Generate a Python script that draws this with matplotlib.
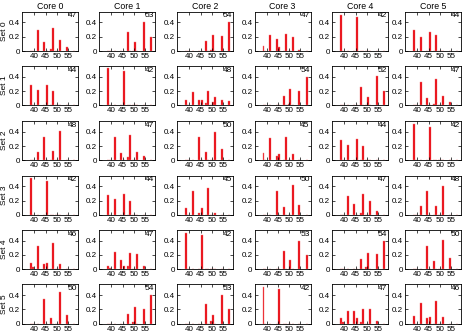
import matplotlib
matplotlib.use("Agg")
import matplotlib.pyplot as plt

plt.rcParams['font.family'] = ['Liberation Sans', 'DejaVu Sans']

cores = ["Core 0", "Core 1", "Core 2", "Core 3", "Core 4", "Core 5"]
sets = ["Set 0", "Set 1", "Set 2", "Set 3", "Set 4", "Set 5"]
bins = [38.5, 39.3, 41.5, 44.5, 45.5, 47.5, 48.5, 49.7, 50.5, 51.5, 54.5, 57.8]
xticks = [40, 45, 50, 55]
yticks = [0, 0.2, 0.4]
ytick_labels = ["0", "0.2", "0.4"]

set0_heights = [
    [0, 0, .29, .13, 0, .03, .32, 0, 0, .16, .05, 0],
    [0, 0, 0, 0, 0, .27, 0, 0, .12, 0, .40, .20],
    [0, 0, 0, 0, 0, .14, 0, .02, .23, 0, .21, .40],
    [.07, 0, .22, .17, .06, 0, .24, 0, 0, .20, .02, 0],
    [.51, 0, 0, 0, .48, 0, 0, 0, 0, 0, 0, 0],
    [.29, 0, .19, 0, .27, 0, .23, 0, 0, 0, 0, 0],
]
set1_heights = [
    [.28, 0, .22, 0, .29, 0, .20, 0, 0, 0, 0, 0],
    [.52, 0, 0, 0, .48, 0, 0, 0, 0, 0, 0, 0],
    [.07, 0, .19, .08, .07, .03, .20, 0, .05, .11, .07, .06],
    [0, 0, 0, 0, 0, .13, 0, .02, .23, 0, .20, .40],
    [0, 0, 0, 0, 0, .26, 0, 0, .12, 0, .41, .20],
    [0, 0, .33, .10, 0, .02, .37, 0, 0, .13, .04, 0],
]
set2_heights = [
    [0, 0, .12, .33, 0, 0, .13, 0, 0, .41, 0, 0],
    [0, 0, .33, .10, 0, .04, .35, 0, 0, .12, .06, 0],
    [0, 0, 0, .33, 0, .11, 0, 0, 0, .40, .16, 0],
    [.10, 0, .31, .06, .09, 0, .33, 0, 0, .09, 0, 0],
    [.28, 0, .22, 0, .30, 0, .20, 0, 0, 0, 0, 0],
    [.51, 0, 0, 0, .47, 0, 0, 0, 0, 0, 0, 0],
]
set3_heights = [
    [.52, 0, 0, 0, .48, 0, 0, 0, 0, 0, 0, 0],
    [.28, 0, .22, 0, .29, 0, .20, 0, 0, 0, 0, 0],
    [.10, 0, .34, .03, .09, 0, .38, 0, 0, .03, 0, 0],
    [0, 0, 0, .33, 0, .11, 0, 0, 0, .42, .14, 0],
    [0, 0, .27, .15, 0, .03, .29, 0, 0, .19, .06, 0],
    [0, 0, .12, .33, 0, 0, .13, 0, 0, .41, 0, 0],
]
set4_heights = [
    [.08, .03, .32, .07, .08, 0, .36, 0, 0, .07, 0, 0],
    [.05, .02, .24, .13, .04, .04, .23, 0, 0, .21, .04, 0],
    [.51, 0, 0, 0, .48, 0, 0, 0, 0, 0, 0, 0],
    [0, 0, 0, 0, 0, .26, 0, 0, .13, 0, .40, .20],
    [0, 0, 0, 0, 0, .14, 0, .03, .23, 0, .21, .40],
    [0, 0, 0, .33, 0, .11, 0, 0, 0, .41, .15, 0],
]
set5_heights = [
    [0, 0, 0, .35, 0, .08, 0, 0, 0, .44, .12, 0],
    [0, 0, 0, 0, 0, .13, 0, .02, .23, 0, .20, .40],
    [0, 0, 0, 0, 0, .27, 0, .03, .12, 0, .40, .20],
    [.51, 0, 0, 0, .48, 0, 0, 0, 0, 0, 0, 0],
    [.08, .02, .18, .17, .08, .02, .20, 0, 0, .21, .03, 0],
    [.10, 0, .29, .08, .09, 0, .31, 0, 0, .09, 0, 0],
]
panel_labels = [
    [47, 53, 54, 47, 42, 44],
    [44, 42, 48, 54, 52, 47],
    [48, 47, 50, 45, 44, 42],
    [42, 44, 45, 50, 47, 48],
    [46, 47, 42, 53, 54, 50],
    [50, 54, 53, 42, 47, 46],
]
all_heights = [set0_heights, set1_heights, set2_heights,
               set3_heights, set4_heights, set5_heights]

W, H = 470, 336
fig = plt.figure(figsize=(W / 100, H / 100), dpi=100)

ax_w, ax_h = 56, 39.3
col_left = [22, 99, 177, 254.5, 332, 405]
row_top = [11.7, 66, 121, 175.5, 229.8, 284.3]

for r in range(6):
    for c in range(6):
        l = col_left[c]
        t = row_top[r]
        ax = fig.add_axes([l / W, 1 - (t + ax_h) / H, ax_w / W, ax_h / H])
        ax.bar(bins, all_heights[r][c], width=0.85, color='#e8000a',
               edgecolor='#f47a7a', linewidth=0.3)
        ax.set_xlim(34.5, 59.5)
        ax.set_ylim(0, 0.55)
        ax.set_xticks(xticks)
        ax.set_xticklabels([str(v) for v in xticks])
        ax.set_yticks(yticks)
        ax.set_yticklabels(ytick_labels)
        ax.tick_params(direction='in', length=2.5, width=0.5, labelsize=5.8,
                       pad=1.5, top=True, right=True)
        for s in ax.spines.values():
            s.set_linewidth(0.6)
        ax.text(0.985, 0.98, str(panel_labels[r][c]), transform=ax.transAxes,
                ha='right', va='top', fontsize=6)
        if r == 0:
            ax.set_title(cores[c], fontsize=6.3, pad=2)
        if c == 0:
            fig.text(4 / W, 1 - (t + ax_h / 2) / H, sets[r], rotation=90,
                     ha='center', va='center', fontsize=6)

fig.savefig("out.png", dpi=100)
